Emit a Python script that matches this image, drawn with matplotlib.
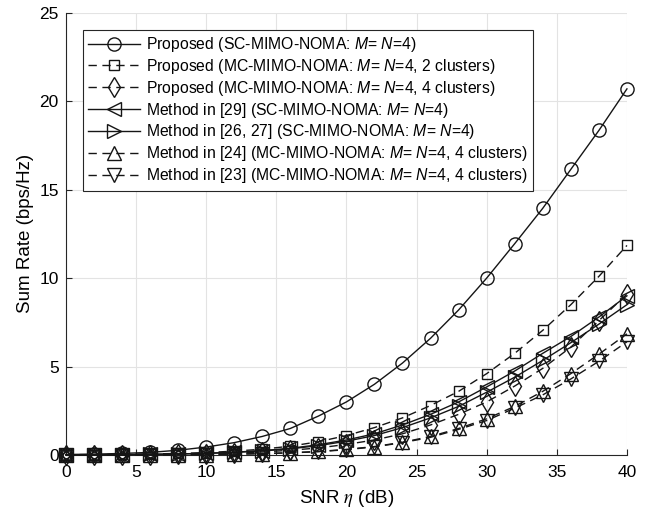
import matplotlib
matplotlib.use('Agg')
import matplotlib.pyplot as plt

plt.rcParams['font.family'] = ['Liberation Sans', 'DejaVu Sans']
plt.rcParams['mathtext.fontset'] = 'custom'
plt.rcParams['mathtext.it'] = 'Liberation Sans:italic'
plt.rcParams['mathtext.rm'] = 'Liberation Sans'

# dados
snr = [0, 2, 4, 6, 8, 10, 12, 14, 16, 18, 20, 22, 24, 26, 28, 30, 32, 34, 36, 38, 40]

prop_sc = [0.03, 0.05, 0.09, 0.15, 0.27, 0.45, 0.7, 1.05, 1.5, 2.2, 3.0,
           4.0, 5.2, 6.6, 8.2, 10.0, 11.95, 13.95, 16.15, 18.35, 20.7]
prop_mc2 = [0.02, 0.03, 0.04, 0.06, 0.09, 0.14, 0.22, 0.33, 0.5, 0.75, 1.1,
            1.55, 2.1, 2.8, 3.6, 4.6, 5.75, 7.05, 8.5, 10.1, 11.85]
prop_mc4 = [0.01, 0.01, 0.02, 0.03, 0.04, 0.07, 0.11, 0.17, 0.27, 0.4, 0.6,
            0.85, 1.2, 1.7, 2.3, 3.0, 3.9, 4.9, 6.1, 7.6, 9.1]
met29 = [0.01, 0.01, 0.02, 0.04, 0.06, 0.1, 0.16, 0.25, 0.38, 0.58, 0.85,
         1.2, 1.7, 2.3, 3.0, 3.85, 4.75, 5.75, 6.7, 7.8, 9.0]
met2627 = [0.01, 0.01, 0.02, 0.04, 0.06, 0.09, 0.15, 0.23, 0.35, 0.53, 0.78,
           1.1, 1.55, 2.1, 2.75, 3.55, 4.4, 5.35, 6.35, 7.4, 8.5]
met24 = [0.01, 0.01, 0.01, 0.02, 0.02, 0.03, 0.05, 0.08, 0.13, 0.2, 0.32,
         0.48, 0.72, 1.05, 1.5, 2.05, 2.75, 3.6, 4.6, 5.7, 6.85]
met23 = [0.01, 0.01, 0.01, 0.02, 0.02, 0.03, 0.05, 0.08, 0.12, 0.19, 0.3,
         0.46, 0.7, 1.0, 1.45, 1.95, 2.65, 3.4, 4.3, 5.3, 6.4]

rotulos = [r'Proposed (SC-MIMO-NOMA: $M$= $N$=4)',
           r'Proposed (MC-MIMO-NOMA: $M$= $N$=4, 2 clusters)',
           r'Proposed (MC-MIMO-NOMA: $M$= $N$=4, 4 clusters)',
           r'Method in [29] (SC-MIMO-NOMA: $M$= $N$=4)',
           r'Method in [26, 27] (SC-MIMO-NOMA: $M$= $N$=4)',
           r'Method in [24] (MC-MIMO-NOMA: $M$= $N$=4, 4 clusters)',
           r'Method in [23] (MC-MIMO-NOMA: $M$= $N$=4, 4 clusters)']

series = [prop_sc, prop_mc2, prop_mc4, met29, met2627, met24, met23]
marcadores = ['o', 's', 'd', '<', '>', '^', 'v']
estilos = ['-', '--', '--', '-', '-', '--', '--']
tamanhos = [9.5, 7.5, 10.5, 9.5, 9.5, 9.5, 9.5]

fig = plt.figure(figsize=(6.45, 5.13), dpi=100)
ax = fig.add_axes([0.102, 0.113, 0.870, 0.862])

for y, m, ls, ms, lab in zip(series, marcadores, estilos, tamanhos, rotulos):
    ax.plot(snr, y, color='#151515', linestyle=ls, marker=m, markersize=ms,
            markerfacecolor='none', markeredgewidth=1.0, linewidth=1.0,
            dashes=(6, 4) if ls == '--' else (None, None), label=lab,
            clip_on=False, zorder=3)

ax.set_xlim(0, 40)
ax.set_ylim(0, 25)
ax.set_xticks(range(0, 41, 5))
ax.set_yticks(range(0, 26, 5))
ax.grid(True, color='#e3e3e3', linewidth=0.8)
ax.set_axisbelow(True)
ax.tick_params(direction='in', labelsize=12.5, length=4, color='#262626')
ax.tick_params(axis='x', pad=7)
ax.tick_params(axis='y', pad=5)
ax.spines['top'].set_visible(False)
ax.spines['right'].set_visible(False)
for s in ['left', 'bottom']:
    ax.spines[s].set_color('#262626')
    ax.spines[s].set_linewidth(0.8)

ax.set_xlabel(r'SNR $\eta$ (dB)', fontsize=13.5, math_fontfamily='stix', labelpad=6)
ax.set_ylabel('Sum Rate (bps/Hz)', fontsize=13.5, labelpad=4)

leg = ax.legend(loc='upper left', fontsize=11.3, frameon=True, fancybox=False,
                edgecolor='#262626', framealpha=1, handlelength=3.3,
                borderpad=0.35, labelspacing=0.18, handletextpad=0.4,
                borderaxespad=0, bbox_to_anchor=(0.03, 0.962))
leg.get_frame().set_linewidth(0.8)
leg.set_zorder(5)

fig.savefig('out.png', dpi=100)
